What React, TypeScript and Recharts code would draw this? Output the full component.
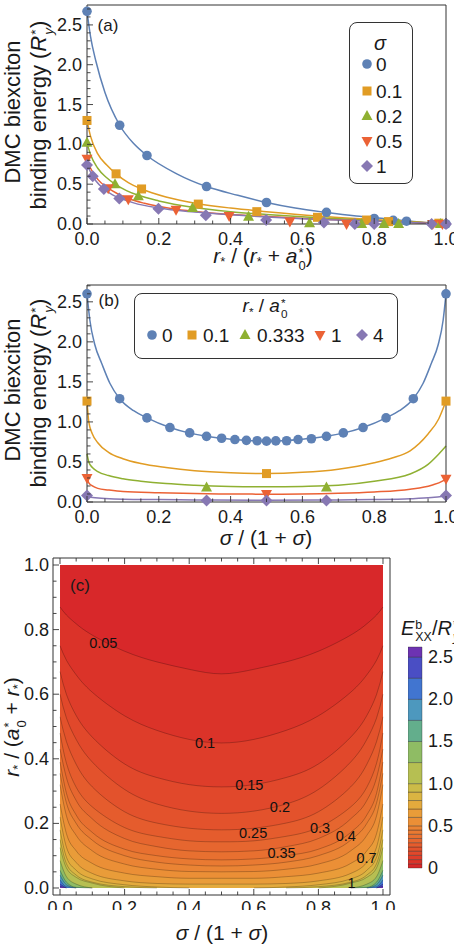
import React from 'react'
import { ComposedChart, Line, Scatter, Area, XAxis, YAxis, BarChart, Bar } from 'recharts'

const FONT = '"Liberation Sans", Arial, sans-serif'
const INK = '#1a1a1a'
const FRAME = '#333'

const COLORS = ['#5e81b5', '#e19c24', '#8fb032', '#eb6235', '#8778b3']
const SHAPES = ['circle', 'square', 'up', 'down', 'diamond']

// ---- panel (a): binding energy vs r*/(r*+a0*), one series per sigma
const aSigmaLabels = ['0', '0.1', '0.2', '0.5', '1']
const aPts0 = [[0, 2.67], [0.091, 1.24], [0.167, 0.86], [0.333, 0.47], [0.5, 0.27], [0.667, 0.147], [0.8, 0.07], [0.853, 0.045], [0.89, 0.035], [1, 0]]
const aPts1 = [[0, 1.3], [0.081, 0.63], [0.152, 0.44], [0.31, 0.25], [0.473, 0.155], [0.642, 0.084], [0.779, 0.05], [0.84, 0.03], [0.98, 0.01]]
const aPts2 = [[0, 1.02], [0.078, 0.5], [0.143, 0.35], [0.294, 0.2], [0.45, 0.09], [0.62, 0.01], [0.765, 0], [0.827, 0], [0.868, 0], [0.985, 0]]
const aPts3 = [[0, 0.82], [0.059, 0.45], [0.115, 0.31], [0.248, 0.18], [0.396, 0.1], [0.565, 0.03], [0.723, 0], [0.963, 0], [0.99, 0]]
const aPts4 = [[0, 0.74], [0.016, 0.6], [0.047, 0.44], [0.09, 0.32], [0.199, 0.19], [0.331, 0.11], [0.499, 0.05], [0.66, 0.02], [0.746, 0], [0.8, 0], [0.96, 0], [1, 0]]
const aFit0 = [[0, 2.67], [0.01, 2.35], [0.025, 2.04], [0.05, 1.65], [0.091, 1.24], [0.13, 1.01], [0.167, 0.86], [0.25, 0.63], [0.333, 0.47], [0.42, 0.36], [0.5, 0.27], [0.58, 0.2], [0.667, 0.145], [0.75, 0.1], [0.833, 0.065], [0.9, 0.035], [1, 0]]
const aFit1 = [[0, 1.3], [0.01, 1.1], [0.03, 0.88], [0.055, 0.74], [0.081, 0.63], [0.115, 0.52], [0.152, 0.44], [0.22, 0.34], [0.31, 0.255], [0.4, 0.2], [0.5, 0.155], [0.64, 0.1], [0.78, 0.06], [0.9, 0.03], [1, 0]]
const aFit2 = [[0, 1.02], [0.01, 0.87], [0.03, 0.7], [0.055, 0.58], [0.078, 0.5], [0.11, 0.42], [0.143, 0.36], [0.2, 0.29], [0.294, 0.21], [0.4, 0.155], [0.5, 0.12], [0.62, 0.085], [0.77, 0.05], [0.9, 0.025], [1, 0]]
const aFit3 = [[0, 0.82], [0.01, 0.7], [0.03, 0.56], [0.059, 0.45], [0.085, 0.38], [0.115, 0.32], [0.16, 0.26], [0.248, 0.185], [0.33, 0.145], [0.4, 0.12], [0.5, 0.095], [0.6, 0.07], [0.75, 0.045], [0.9, 0.02], [1, 0]]
const aFit4 = [[0, 0.75], [0.01, 0.65], [0.025, 0.54], [0.047, 0.44], [0.07, 0.37], [0.09, 0.33], [0.13, 0.265], [0.2, 0.2], [0.3, 0.15], [0.4, 0.115], [0.5, 0.088], [0.6, 0.066], [0.75, 0.042], [0.9, 0.02], [1, 0]]

// ---- panel (b): binding energy vs sigma/(1+sigma), one series per r*/a0*
const bRLabels = ['0', '0.1', '0.333', '1', '4']
const bPts0 = [[0, 2.6], [0.091, 1.29], [0.167, 1.05], [0.231, 0.93], [0.286, 0.863], [0.333, 0.82], [0.375, 0.796], [0.412, 0.78], [0.444, 0.77], [0.474, 0.765], [0.5, 0.76], [0.526, 0.763], [0.556, 0.765], [0.588, 0.78], [0.625, 0.79], [0.667, 0.82], [0.714, 0.863], [0.769, 0.93], [0.833, 1.05], [0.909, 1.29], [1, 2.6]]
const bPts1 = [[0, 1.26], [0.5, 0.355], [1, 1.26]]
const bPts2 = [[0.333, 0.18], [0.667, 0.18]]
const bPts3 = [[0, 0.3], [0.5, 0.1], [1, 0.29]]
const bPts4 = [[0, 0.08], [0.333, 0.02], [0.5, 0.02], [0.667, 0.02], [1, 0.08]]
const bFit0 = [[0, 2.6], [0.008, 2.27], [0.022, 1.96], [0.041, 1.73], [0.064, 1.48], [0.091, 1.29], [0.13, 1.14], [0.167, 1.05], [0.231, 0.93], [0.286, 0.86], [0.333, 0.82], [0.4, 0.785], [0.5, 0.76], [0.6, 0.785], [0.667, 0.82], [0.714, 0.86], [0.769, 0.93], [0.833, 1.05], [0.87, 1.14], [0.909, 1.29], [0.936, 1.48], [0.959, 1.73], [0.978, 1.96], [0.992, 2.27], [1, 2.6]]
const bFit1 = [[0, 1.26], [0.005, 1.0], [0.015, 0.85], [0.03, 0.74], [0.06, 0.62], [0.1, 0.54], [0.15, 0.48], [0.22, 0.43], [0.3, 0.39], [0.4, 0.365], [0.5, 0.355], [0.6, 0.37], [0.7, 0.41], [0.8, 0.49], [0.85, 0.55], [0.9, 0.64], [0.95, 0.85], [0.98, 1.04], [1, 1.26]]
const bFit2 = [[0, 0.6], [0.005, 0.5], [0.015, 0.43], [0.03, 0.38], [0.06, 0.33], [0.1, 0.29], [0.15, 0.26], [0.22, 0.23], [0.3, 0.21], [0.4, 0.195], [0.5, 0.19], [0.6, 0.195], [0.7, 0.21], [0.8, 0.26], [0.9, 0.35], [0.95, 0.47], [0.98, 0.6], [1, 0.7]]
const bFit3 = [[0, 0.3], [0.005, 0.24], [0.015, 0.2], [0.03, 0.17], [0.06, 0.15], [0.1, 0.13], [0.2, 0.115], [0.3, 0.105], [0.4, 0.1], [0.5, 0.098], [0.6, 0.1], [0.7, 0.108], [0.8, 0.125], [0.9, 0.16], [0.96, 0.21], [0.99, 0.26], [1, 0.29]]
const bFit4 = [[0, 0.08], [0.01, 0.06], [0.05, 0.045], [0.1, 0.035], [0.2, 0.03], [0.3, 0.026], [0.5, 0.022], [0.7, 0.026], [0.8, 0.03], [0.9, 0.04], [0.96, 0.055], [1, 0.075]]

const cX = [0, 0.02, 0.05, 0.1, 0.2, 0.3, 0.4, 0.5, 0.6, 0.7, 0.8, 0.9, 0.95, 0.98, 1]
const cLevels = [0, 0.05, 0.1, 0.15, 0.2, 0.25, 0.3, 0.35, 0.4, 0.45, 0.5, 0.6, 0.7, 0.8, 0.9, 1, 1.25, 1.5, 1.75, 2, 2.25, 2.5]
const _ = null
const cY: (number | null)[][] = [
  [1, 1, 1, 1, 1, 1, 1, 1, 1, 1, 1, 1, 1, 1, 1],
  [0.87, 0.845, 0.818, 0.783, 0.733, 0.7, 0.677, 0.663, 0.677, 0.7, 0.733, 0.783, 0.818, 0.845, 0.87],
  [0.75, 0.705, 0.66, 0.606, 0.533, 0.488, 0.46, 0.449, 0.46, 0.488, 0.533, 0.606, 0.66, 0.705, 0.75],
  [0.67, 0.599, 0.534, 0.467, 0.384, 0.342, 0.32, 0.313, 0.32, 0.342, 0.384, 0.467, 0.534, 0.599, 0.67],
  [0.6, 0.526, 0.46, 0.39, 0.305, 0.26, 0.238, 0.231, 0.238, 0.26, 0.305, 0.39, 0.46, 0.526, 0.6],
  [0.53, 0.453, 0.383, 0.313, 0.236, 0.201, 0.185, 0.18, 0.185, 0.201, 0.236, 0.313, 0.383, 0.453, 0.53],
  [0.48, 0.386, 0.312, 0.251, 0.187, 0.16, 0.146, 0.143, 0.146, 0.16, 0.187, 0.251, 0.312, 0.386, 0.48],
  [0.43, 0.341, 0.271, 0.214, 0.153, 0.128, 0.115, 0.112, 0.115, 0.128, 0.153, 0.214, 0.271, 0.341, 0.43],
  [0.39, 0.293, 0.226, 0.172, 0.12, 0.1, 0.09, 0.087, 0.09, 0.1, 0.12, 0.172, 0.226, 0.293, 0.39],
  [0.355, 0.263, 0.2, 0.148, 0.1, 0.08, 0.071, 0.068, 0.071, 0.08, 0.1, 0.148, 0.2, 0.263, 0.355],
  [0.32, 0.223, 0.163, 0.115, 0.074, 0.058, 0.051, 0.05, 0.051, 0.058, 0.074, 0.115, 0.163, 0.223, 0.32],
  [0.26, 0.168, 0.115, 0.076, 0.046, 0.035, 0.03, 0.03, 0.03, 0.035, 0.046, 0.076, 0.115, 0.168, 0.26],
  [0.22, 0.126, 0.079, 0.045, 0.022, 0.014, 0.012, 0.012, 0.012, 0.014, 0.022, 0.045, 0.079, 0.126, 0.22],
  [0.18, 0.095, 0.055, 0.028, 0.01, 0.003, 0, _, 0, 0.003, 0.01, 0.028, 0.055, 0.095, 0.18],
  [0.15, 0.075, 0.04, 0.018, 0.004, 0, _, _, _, 0, 0.004, 0.018, 0.04, 0.075, 0.15],
  [0.125, 0.062, 0.033, 0.015, 0, _, _, _, _, _, 0, 0.015, 0.033, 0.062, 0.125],
  [0.085, 0.035, 0.012, 0, _, _, _, _, _, _, _, 0, 0.012, 0.035, 0.085],
  [0.055, 0.018, 0.002, 0, _, _, _, _, _, _, _, 0, 0.002, 0.018, 0.055],
  [0.04, 0.01, 0, _, _, _, _, _, _, _, _, _, 0, 0.01, 0.04],
  [0.025, 0.004, 0, _, _, _, _, _, _, _, _, _, 0, 0.004, 0.025],
  [0.012, 0, _, _, _, _, _, _, _, _, _, _, _, 0, 0.012],
  [0.005, 0, _, _, _, _, _, _, _, _, _, _, _, 0, 0.005],
]
const cBandColors = ['#d8282a', '#db3329', '#de3d2a', '#e1482b', '#e3522c', '#e55c2d', '#e6662f', '#e87030', '#e97a32', '#ea8434', '#eb8f36', '#e99c39', '#e4aa3d', '#dab442', '#ccbb48', '#b6bf52', '#8fbc64', '#63ae8c', '#4d98be', '#4175d0', '#4a4ec4', '#6d33b2']
const cLabelText = ['0.05', '0.1', '0.15', '0.2', '0.25', '0.3', '0.35', '0.4', '0.7', '1']
const cLabelX = [0.134, 0.449, 0.586, 0.681, 0.598, 0.805, 0.686, 0.885, 0.949, 0.903]
const cLabelY = [0.757, 0.45, 0.319, 0.252, 0.171, 0.185, 0.109, 0.161, 0.092, 0.016]
const cbMax = 2.62
const cbTicks = [0, 0.5, 1, 1.5, 2, 2.5]
const cbTickLabels = ['0', '0.5', '1.0', '1.5', '2.0', '2.5']

// ---- ticks
const x01Ticks = [0, 0.05, 0.1, 0.15, 0.2, 0.25, 0.3, 0.35, 0.4, 0.45, 0.5, 0.55, 0.6, 0.65, 0.7, 0.75, 0.8, 0.85, 0.9, 0.95, 1]
const x01Major = [0, 0.2, 0.4, 0.6, 0.8, 1]
const x01Labels = ['0.0', '0.2', '0.4', '0.6', '0.8', '1.0']
const eTicks = [0, 0.1, 0.2, 0.3, 0.4, 0.5, 0.6, 0.7, 0.8, 0.9, 1, 1.1, 1.2, 1.3, 1.4, 1.5, 1.6, 1.7, 1.8, 1.9, 2, 2.1, 2.2, 2.3, 2.4, 2.5, 2.6, 2.7]
const eMajor = [0, 0.5, 1, 1.5, 2, 2.5]
const eLabels = ['0.0', '0.5', '1.0', '1.5', '2.0', '2.5']

const pts = (a: number[][]) => a.map(([x, y]) => ({ x, y }))

type Side = 'bottom' | 'top' | 'left' | 'right'
const near = (a: number, b: number) => Math.abs(a - b) < 1e-6

function frameTick(side: Side, majors: number[], labels: string[] | null, gap = 0) {
  return (p: any) => {
    const v = Number(p.payload.value)
    const i = majors.findIndex(m => near(m, v))
    const len = i >= 0 ? 6 : 3.5
    const { x, y } = p
    const ln = side === 'bottom' ? [x, y, x, y - len]
      : side === 'top' ? [x, y, x, y + len]
      : side === 'left' ? [x, y, x + len, y] : [x, y, x - len, y]
    let label = null
    if (labels && i >= 0) {
      label = side === 'bottom'
        ? <text x={x} y={y + gap} textAnchor="middle" dominantBaseline="central" fontSize={18} fontFamily={FONT} fill={INK}>{labels[i]}</text>
        : <text x={x - gap} y={y} textAnchor="end" dominantBaseline="central" fontSize={18} fontFamily={FONT} fill={INK}>{labels[i]}</text>
    }
    return (
      <g>
        <line x1={ln[0]} y1={ln[1]} x2={ln[2]} y2={ln[3]} stroke={FRAME} strokeWidth={0.9} />
        {label}
      </g>
    )
  }
}

function Marker({ kind, cx, cy, color }: { kind: string; cx: number; cy: number; color: string }) {
  if (kind === 'circle') return <circle cx={cx} cy={cy} r={4.8} fill={color} />
  if (kind === 'square') return <rect x={cx - 4.5} y={cy - 4.5} width={9} height={9} fill={color} />
  if (kind === 'up') return <polygon points={`${cx},${cy - 6} ${cx + 5.5},${cy + 4} ${cx - 5.5},${cy + 4}`} fill={color} />
  if (kind === 'down') return <polygon points={`${cx},${cy + 6} ${cx + 5.5},${cy - 4} ${cx - 5.5},${cy - 4}`} fill={color} />
  return <polygon points={`${cx},${cy - 6} ${cx + 6},${cy} ${cx},${cy + 6} ${cx - 6},${cy}`} fill={color} />
}

// axes are 1px thick (a 0-sized axis is not drawn); ticks point inward from the frame
function frameAxes(xDomain: number[], yDomain: number[], xTicks: number[], xMajor: number[], xLabels: string[], yTicks: number[], yMajor: number[], yLabels: string[], xGap: number, yGap: number) {
  const common = { type: 'number' as const, tickSize: 0, tickMargin: 0, tickLine: false, interval: 0 as const, axisLine: { stroke: FRAME, strokeWidth: 1 } }
  return [
    <XAxis key="xb" dataKey="x" domain={xDomain} ticks={xTicks} height={1} tick={frameTick('bottom', xMajor, xLabels, xGap)} {...common} />,
    <XAxis key="xt" xAxisId="t" orientation="top" dataKey="x" domain={xDomain} ticks={xTicks} height={1} tick={frameTick('top', xMajor, null)} {...common} />,
    <YAxis key="yl" domain={yDomain} ticks={yTicks} width={1} tick={frameTick('left', yMajor, yLabels, yGap)} {...common} />,
    <YAxis key="yr" yAxisId="r" orientation="right" domain={yDomain} ticks={yTicks} width={1} tick={frameTick('right', yMajor, null)} {...common} />,
  ]
}

function Txt({ x, y, size = 20, rot = false, left = false, children }: any) {
  return (
    <div style={{
      position: 'absolute', left: x, top: y, whiteSpace: 'nowrap', fontSize: size, lineHeight: 1, color: INK,
      transform: `translate(${left ? '0' : '-50%'}, -50%)${rot ? ' rotate(-90deg)' : ''}`,
    }}>{children}</div>
  )
}

const Sub = ({ children }: any) => <span style={{ fontSize: '0.62em', verticalAlign: '-0.3em' }}>{children}</span>
const SS = ({ sup, sub }: any) => (
  <span style={{ display: 'inline-flex', flexDirection: 'column', fontSize: '0.62em', lineHeight: 0.95, verticalAlign: '0.45em', marginLeft: 1 }}>
    <span>{sup}</span><span>{sub}</span>
  </span>
)

const aPts = [aPts0, aPts1, aPts2, aPts3, aPts4]
const aFits = [aFit0, aFit1, aFit2, aFit3, aFit4]
const bPts = [bPts0, bPts1, bPts2, bPts3, bPts4]
const bFits = [bFit0, bFit1, bFit2, bFit3, bFit4]

function CurvePanel({ fits, points, yMax, height, margin }: any) {
  return (
    <ComposedChart width={454} height={height} margin={margin}>
      {frameAxes([0, 1], [0, yMax], x01Ticks, x01Major, x01Labels, eTicks, eMajor, eLabels, 15, 5)}
      {fits.map((f: number[][], i: number) => (
        <Line key={'l' + i} data={pts(f)} dataKey="y" type="monotone" stroke={COLORS[i]} strokeWidth={1.5} dot={false} activeDot={false} isAnimationActive={false} />
      ))}
      {points.map((p: number[][], i: number) => (
        <Scatter key={'s' + i} data={pts(p)} dataKey="y" isAnimationActive={false}
          shape={(s: any) => <Marker kind={SHAPES[i]} cx={s.cx} cy={s.cy} color={COLORS[i]} />} />
      ))}
    </ComposedChart>
  )
}

const contourRows = cX.map((x, j) => {
  const row: any = { x }
  cY.forEach((ys, k) => { row['c' + k] = ys[j] })
  return row
})
const contourLabels = cLabelText.map((t, i) => ({ x: cLabelX[i], y: cLabelY[i], t }))

const cbRow: any = { k: 'cb' }
cLevels.forEach((l, i) => { cbRow['b' + i] = (i + 1 < cLevels.length ? cLevels[i + 1] : cbMax) - l })

export default function App() {
  const cDom = [-0.0217, 1.0217]
  return (
    <div style={{ position: 'absolute', left: 0, top: 0, width: 454, height: 950, overflow: 'hidden', background: '#fff', fontFamily: FONT }}>
      <div style={{ position: 'absolute', left: 0, top: 0 }}>
        <CurvePanel fits={aFits} points={aPts} yMax={2.75} height={260} margin={{ top: 4, right: 7, bottom: 35, left: 86 }} />
      </div>
      <div style={{ position: 'absolute', left: 0, top: 280 }}>
        <CurvePanel fits={bFits} points={bPts} yMax={2.71} height={250} margin={{ top: 4, right: 7, bottom: 27, left: 86 }} />
      </div>
      <div style={{ position: 'absolute', left: 0, top: 550 }}>
        <ComposedChart width={454} height={360} data={contourRows} margin={{ top: 7, right: 63, bottom: 14, left: 52 }}>
          {frameAxes(cDom, cDom, x01Ticks, x01Major, x01Labels, x01Ticks, x01Major, x01Labels, 13, 4)}
          {cLevels.map((l, k) => (
            <Area key={'c' + k} dataKey={'c' + k} type={k <= 6 ? 'natural' : 'monotone'} baseValue={0} connectNulls={false}
              fill={cBandColors[k]} fillOpacity={1} stroke={k === 0 ? 'none' : '#000'} strokeOpacity={0.4} strokeWidth={0.6}
              dot={false} activeDot={false} isAnimationActive={false} />
          ))}
          <Scatter data={contourLabels} dataKey="y" isAnimationActive={false}
            shape={(s: any) => <text x={s.cx} y={s.cy} textAnchor="middle" dominantBaseline="central" fontSize={14.5} fontFamily={FONT} fill="#111">{s.payload.t}</text>} />
        </ComposedChart>
      </div>
      <div style={{ position: 'absolute', left: 408, top: 640 }}>
        <BarChart width={46} height={240} data={[cbRow]} margin={{ top: 7, right: 31, bottom: 12, left: 0 }} barCategoryGap={0}>
          <XAxis dataKey="k" hide />
          <YAxis orientation="right" type="number" domain={[0, cbMax]} ticks={cbTicks} width={1} interval={0} tickSize={0} tickMargin={0} tickLine={false} axisLine={false}
            tick={(p: any) => {
              const i = cbTicks.findIndex(t => near(t, Number(p.payload.value)))
              return <text x={p.x + 6} y={p.y} dominantBaseline="central" fontSize={18} fontFamily={FONT} fill={INK}>{cbTickLabels[i]}</text>
            }} />
          {cLevels.map((l, i) => (
            <Bar key={'b' + i} dataKey={'b' + i} stackId="cb" fill={cBandColors[i]} stroke="#222" strokeWidth={0.35} isAnimationActive={false} />
          ))}
        </BarChart>
      </div>

      {/* panel labels */}
      <Txt x={108} y={25} size={17}>(a)</Txt>
      <Txt x={109} y={300} size={17}>(b)</Txt>
      <Txt x={80} y={585} size={17}>(c)</Txt>

      {/* axis titles */}
      <Txt x={12.5} y={112} size={22} rot>DMC biexciton</Txt>
      <Txt x={41.5} y={115} size={22} rot>binding energy (<i>R</i><SS sup="*" sub={<i>y</i>} />)</Txt>
      <Txt x={263} y={258} size={21}><i>r</i><Sub>*</Sub> / (<i>r</i><Sub>*</Sub> + <i>a</i><SS sup="*" sub="0" />)</Txt>
      <Txt x={12.5} y={390} size={22} rot>DMC biexciton</Txt>
      <Txt x={41.5} y={393} size={22} rot>binding energy (<i>R</i><SS sup="*" sub={<i>y</i>} />)</Txt>
      <Txt x={266} y={537} size={21}><i>σ</i> / (1 + <i>σ</i>)</Txt>
      <Txt x={14} y={727} size={21} rot><i>r</i><Sub>*</Sub> / (<i>a</i><SS sup="*" sub="0" /> + <i>r</i><Sub>*</Sub>)</Txt>
      <Txt x={222} y={932} size={21}><i>σ</i> / (1 + <i>σ</i>)</Txt>
      <Txt x={401} y={631} size={20} left><i>E</i><SS sup="b" sub="XX" />/<i>R</i><SS sup="*" sub={<i>y</i>} /></Txt>

      {/* legend (a) */}
      <div style={{ position: 'absolute', left: 349, top: 22, width: 62, height: 160, border: `1px solid ${FRAME}`, borderRadius: 8, background: '#fff' }} />
      <Txt x={380} y={43} size={20}><i>σ</i></Txt>
      {aSigmaLabels.map((t, i) => {
        const y = [64, 91, 116, 141, 166][i]
        return (
          <React.Fragment key={'la' + i}>
            <svg style={{ position: 'absolute', left: 360, top: y - 7 }} width={14} height={14}>
              <Marker kind={SHAPES[i]} cx={7} cy={7} color={COLORS[i]} />
            </svg>
            <Txt x={376} y={y} size={19} left>{t}</Txt>
          </React.Fragment>
        )
      })}

      {/* legend (b) */}
      <div style={{ position: 'absolute', left: 134, top: 293, width: 262, height: 64, border: `1px solid ${FRAME}`, borderRadius: 8, background: '#fff' }} />
      <Txt x={265} y={308} size={19}><i>r</i><Sub>*</Sub> / <i>a</i><SS sup="*" sub="0" /></Txt>
      {bRLabels.map((t, i) => {
        const mx = [152, 192, 245, 320, 362][i]
        const tx = [162, 203, 257, 331, 373][i]
        return (
          <React.Fragment key={'lb' + i}>
            <svg style={{ position: 'absolute', left: mx - 7, top: 335 - 7 }} width={14} height={14}>
              <Marker kind={SHAPES[i]} cx={7} cy={7} color={COLORS[i]} />
            </svg>
            <Txt x={tx} y={335} size={19} left>{t}</Txt>
          </React.Fragment>
        )
      })}
    </div>
  )
}
